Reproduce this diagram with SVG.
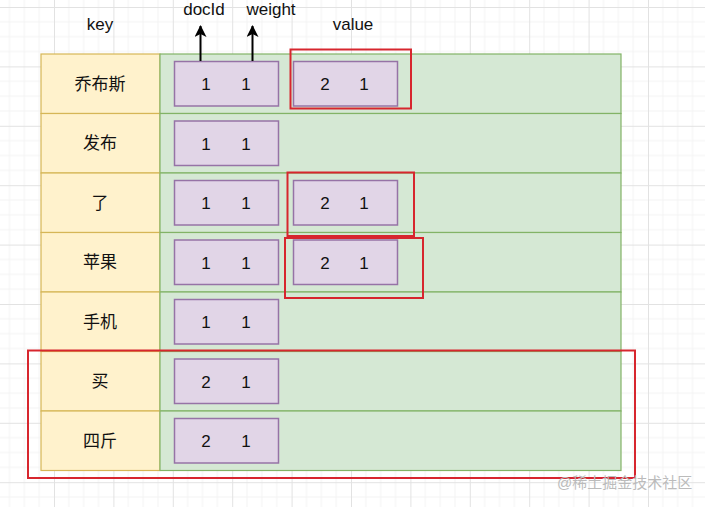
<svg xmlns="http://www.w3.org/2000/svg" width="705" height="507" viewBox="0 0 705 507">
<style>
text{font-family:"Liberation Sans",Arial,"Noto Sans CJK SC",sans-serif;font-size:17px;fill:#111;text-anchor:middle}
.key{fill:#fff2cc;stroke:#d6b656;stroke-width:1.2}
.val{fill:#d5e8d4;stroke:#82b366;stroke-width:1.2}
.cell{fill:#e1d5e7;stroke:#9673a6;stroke-width:1.5}
.hl{fill:none;stroke:#d7262e;stroke-width:2}
.arr{stroke:#000;stroke-width:2;fill:none}
.wm{fill:#bbb;font-size:15px;text-anchor:start}
</style>
<defs>
<pattern id="grid" patternUnits="userSpaceOnUse" x="54" y="7" width="59.4" height="59.4">
<path d="M14.85 0V59.4M29.7 0V59.4M44.55 0V59.4M0 14.85H59.4M0 29.7H59.4M0 44.55H59.4" stroke="#f3f3f3" stroke-width="1" fill="none"/>
<path d="M0.5 0V59.4M0 0.5H59.4" stroke="#e2e2e2" stroke-width="1" fill="none"/>
</pattern>
<marker id="ah" viewBox="0 0 12 12" refX="11" refY="6" markerWidth="12" markerHeight="12" markerUnits="userSpaceOnUse" orient="auto">
<path d="M0 0L12 6L0 12L3 6Z" fill="#000"/>
</marker>
</defs>
<rect width="705" height="507" fill="#fff"/>
<rect width="705" height="507" fill="url(#grid)"/>

<text x="100" y="30">key</text>
<text x="204" y="15">docId</text>
<text x="271" y="15">weight</text>
<text x="353" y="30">value</text>

<g id="row1">
<rect class="key" x="41" y="54" width="119" height="59.5"/>
<rect class="val" x="160" y="54" width="461" height="59.5"/>
<text x="100" y="90">乔布斯</text>
<rect class="cell" x="174.5" y="61.5" width="104" height="44.5"/>
<text x="206" y="90">1</text><text x="246" y="90">1</text>
<rect class="cell" x="293.5" y="61.5" width="104" height="44.5"/>
<text x="325" y="90">2</text><text x="364" y="90">1</text>
</g>
<g id="row2">
<rect class="key" x="41" y="113.5" width="119" height="59.5"/>
<rect class="val" x="160" y="113.5" width="461" height="59.5"/>
<text x="100" y="149">发布</text>
<rect class="cell" x="174.5" y="121" width="104" height="44.5"/>
<text x="206" y="149.5">1</text><text x="246" y="149.5">1</text>
</g>
<g id="row3">
<rect class="key" x="41" y="173" width="119" height="59.5"/>
<rect class="val" x="160" y="173" width="461" height="59.5"/>
<text x="100" y="208.5">了</text>
<rect class="cell" x="174.5" y="180.5" width="104" height="44.5"/>
<text x="206" y="209">1</text><text x="246" y="209">1</text>
<rect class="cell" x="293.5" y="180.5" width="104" height="44.5"/>
<text x="325" y="209">2</text><text x="364" y="209">1</text>
</g>
<g id="row4">
<rect class="key" x="41" y="232.5" width="119" height="59.5"/>
<rect class="val" x="160" y="232.5" width="461" height="59.5"/>
<text x="100" y="268">苹果</text>
<rect class="cell" x="174.5" y="240" width="104" height="44.5"/>
<text x="206" y="268.5">1</text><text x="246" y="268.5">1</text>
<rect class="cell" x="293.5" y="240" width="104" height="44.5"/>
<text x="325" y="268.5">2</text><text x="364" y="268.5">1</text>
</g>
<g id="row5">
<rect class="key" x="41" y="292" width="119" height="59.5"/>
<rect class="val" x="160" y="292" width="461" height="59.5"/>
<text x="100" y="327.5">手机</text>
<rect class="cell" x="174.5" y="299.5" width="104" height="44.5"/>
<text x="206" y="328">1</text><text x="246" y="328">1</text>
</g>
<g id="row6">
<rect class="key" x="41" y="351.5" width="119" height="59.5"/>
<rect class="val" x="160" y="351.5" width="461" height="59.5"/>
<text x="100" y="387">买</text>
<rect class="cell" x="174.5" y="359" width="104" height="44.5"/>
<text x="206" y="387.5">2</text><text x="246" y="387.5">1</text>
</g>
<g id="row7">
<rect class="key" x="41" y="411" width="119" height="59.5"/>
<rect class="val" x="160" y="411" width="461" height="59.5"/>
<text x="100" y="446.5">四斤</text>
<rect class="cell" x="174.5" y="418.5" width="104" height="44.5"/>
<text x="206" y="447">2</text><text x="246" y="447">1</text>
</g>

<g id="highlights">
<rect class="hl" x="290.5" y="49.5" width="120.5" height="59"/>
<rect class="hl" x="287.5" y="172.5" width="126.5" height="63.5"/>
<rect class="hl" x="285" y="238" width="138" height="60"/>
<rect class="hl" x="28" y="350.5" width="607" height="127.5"/>
</g>

<g id="connectors">
<line class="arr" x1="200.5" y1="61" x2="200.5" y2="26" marker-end="url(#ah)"/>
<line class="arr" x1="252.5" y1="61" x2="252.5" y2="26" marker-end="url(#ah)"/>
</g>

<text class="wm" x="557" y="488">@稀土掘金技术社区</text>
</svg>
